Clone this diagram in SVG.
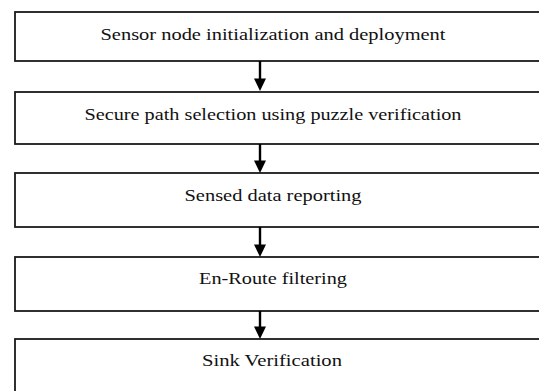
<svg xmlns="http://www.w3.org/2000/svg" width="539" height="391" viewBox="0 0 539 391">
<style>
.box{fill:#fff;stroke:#1a1a1a;stroke-width:1.8}
.lbl{font-family:"Liberation Serif","Times New Roman",serif;font-size:17px;fill:#111;text-anchor:middle}
.con{stroke:#000;stroke-width:2.4;fill:none}
.head{fill:#000}
</style>
<rect width="539" height="391" fill="#fff"/>
<g id="node1"><rect class="box" x="15" y="12" width="540" height="49"/><text class="lbl" x="273" y="40" textLength="345" lengthAdjust="spacingAndGlyphs">Sensor node initialization and deployment</text></g>
<g id="node2"><rect class="box" x="15" y="92" width="540" height="52"/><text class="lbl" x="273" y="120" textLength="377" lengthAdjust="spacingAndGlyphs">Secure path selection using puzzle verification</text></g>
<g id="node3"><rect class="box" x="15" y="173" width="540" height="54"/><text class="lbl" x="273" y="201" textLength="177" lengthAdjust="spacingAndGlyphs">Sensed data reporting</text></g>
<g id="node4"><rect class="box" x="15" y="257" width="540" height="54"/><text class="lbl" x="273" y="284" textLength="148" lengthAdjust="spacingAndGlyphs">En-Route filtering</text></g>
<g id="node5"><rect class="box" x="15" y="339" width="540" height="70"/><text class="lbl" x="272" y="366" textLength="140" lengthAdjust="spacingAndGlyphs">Sink Verification</text></g>
<g id="connectors">
<line class="con" x1="260" y1="61" x2="260" y2="80"/><polygon class="head" points="254,78.5 266,78.5 260,91"/>
<line class="con" x1="260" y1="144" x2="260" y2="162"/><polygon class="head" points="254,160.5 266,160.5 260,173"/>
<line class="con" x1="260" y1="227" x2="260" y2="246"/><polygon class="head" points="254,244.5 266,244.5 260,257"/>
<line class="con" x1="260" y1="311" x2="260" y2="328"/><polygon class="head" points="254,326.5 266,326.5 260,339"/>
</g>
</svg>
